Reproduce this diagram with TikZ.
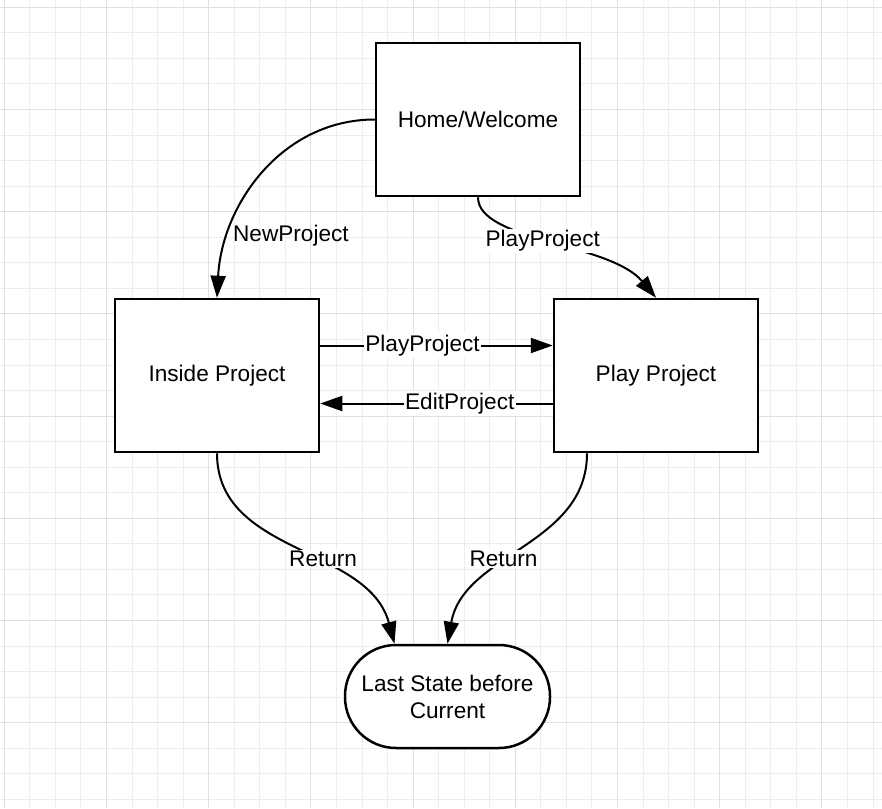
\documentclass[tikz,border=0pt]{standalone}
\usepackage{fontspec}
\setmainfont{Liberation Sans}
\usetikzlibrary{arrows.meta, positioning}

\definecolor{gridminor}{HTML}{EDEDED}
\definecolor{gridmajor}{HTML}{E0E0E0}

\begin{document}
\begin{tikzpicture}[auto,x=1pt,y=1pt,
        >={Triangle[length=22pt,width=15pt]},
        state node/.style={rectangle,draw,fill=white,line width=2.5pt,
            minimum width=204pt,minimum height=153pt,
            font=\fontsize{22.6}{27}\selectfont},
        last node/.style={rectangle,rounded corners=51pt,draw,fill=white,line width=2.5pt,
            minimum width=205pt,minimum height=103pt,align=center,
            font=\fontsize{22.6}{28}\selectfont},
        link/.style={->,line width=2pt},
        link label/.style={auto=false,anchor=center,fill=white,inner sep=1.5pt,
            font=\fontsize{22.6}{27}\selectfont}]
        \useasboundingbox (0,0) rectangle (882,-808);
        \fill[white] (0,0) rectangle (882,-808);

        % grid paper
        \foreach \i in {0,...,34}
            \draw[gridminor,line width=1pt] ({4.3+25.55*\i},0) -- ({4.3+25.55*\i},-808);
        \foreach \i in {0,...,31}
            \draw[gridminor,line width=1pt] (0,{-7.3-25.55*\i}) -- (882,{-7.3-25.55*\i});
        \foreach \i in {0,4,...,32}
            \draw[gridmajor,line width=1.1pt] ({4.3+25.55*\i},0) -- ({4.3+25.55*\i},-808);
        \foreach \i in {0,4,...,28}
            \draw[gridmajor,line width=1.1pt] (0,{-7.3-25.55*\i}) -- (882,{-7.3-25.55*\i});

        % states
        \node[state node] (inside) at (217,-375.5) {Inside Project};
        \node[state node] (play) [right=232.5pt of inside] {Play Project};
        \node[state node] (home) [above right=100.5pt and 54.5pt of inside] {Home/Welcome};
        \node[last node] (last) [below right=190.5pt and 23.5pt of inside.south east] {Last State before\\[-1pt]Current};

        % transitions
        \draw[link] (home.west) to[out=180,in=87]
            node[pos=0.77,right,font=\fontsize{22.6}{27}\selectfont] {NewProject} (inside.north);
        \draw[link] (home.south) to[out=-90,in=130,out looseness=0.55,in looseness=0.9]
            node[link label,pos=0.47] {PlayProject} (play.north);
        \draw[link] ([yshift=30pt]inside.east) --
            node[link label,pos=0.44] {PlayProject} ([yshift=30pt]play.west);
        \draw[link] ([yshift=-28pt]play.west) --
            node[link label,pos=0.40] {EditProject} ([yshift=-28pt]inside.east);
        \draw[link] (inside.south) to[out=-90,in=105]
            node[link label,pos=0.61,yshift=6pt] {Return} ([xshift=-53pt]last.north);
        \draw[link] ([xshift=-69pt]play.south) to[out=-90,in=80]
            node[link label,pos=0.6,yshift=5pt] {Return} (last.north);
\end{tikzpicture}
\end{document}
